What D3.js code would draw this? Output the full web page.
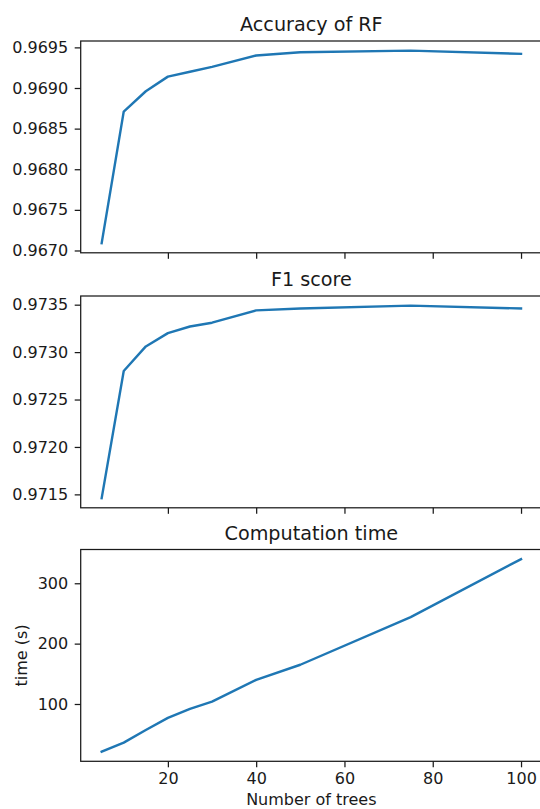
<!DOCTYPE html>
<html>
<head>
<meta charset="utf-8">
<script src="https://cdn.jsdelivr.net/npm/d3@7"></script>
<style>
  html, body { margin: 0; padding: 0; background: #fff; }
  svg { display: block; }
</style>
</head>
<body>
<div id="chart"></div>
<script>
// Random forest scores and timing versus ensemble size
const trees    = [5, 10, 15, 20, 25, 30, 40, 50, 75, 100];
const accuracy = [0.96709, 0.96871, 0.96896, 0.96914, 0.96920, 0.96926, 0.96940, 0.96944, 0.96946, 0.96942];
const f1Score  = [0.97146, 0.97280, 0.97306, 0.97320, 0.97327, 0.97331, 0.97344, 0.97346, 0.97349, 0.97346];
const timeSec  = [21, 36, 57, 77, 92, 104, 140, 165, 244, 340];

const xTicks    = [20, 40, 60, 80, 100];
const accTicks  = [0.9670, 0.9675, 0.9680, 0.9685, 0.9690, 0.9695];
const f1Ticks   = [0.9715, 0.9720, 0.9725, 0.9730, 0.9735];
const timeTicks = [100, 200, 300];

const titles = ["Accuracy of RF", "F1 score", "Computation time"];
const xLabel = "Number of trees";
const yLabelTime = "time (s)";

// Figure geometry
const W = 540, H = 809;
const left = 80.7, right = 542;
const tops = [41, 296, 549.5];
const ph = 211.8;
const FONT = "DejaVu Sans, sans-serif";
const INK = "#1a1a1a";
const LINE = "#1f77b4";

// 5% data margins on each side, like matplotlib autoscaling
function padded(vals) {
  const [lo, hi] = d3.extent(vals);
  const r = hi - lo;
  return [lo - 0.05 * r, hi + 0.05 * r];
}

const svg = d3.select("#chart").append("svg")
  .attr("width", W).attr("height", H)
  .attr("viewBox", `0 0 ${W} ${H}`);

svg.append("rect").attr("width", W).attr("height", H).attr("fill", "#fff");

const x = d3.scaleLinear().domain(padded(trees)).range([left, right]);

const panels = [
  { values: accuracy, ticks: accTicks, fmt: d3.format(".4f"), title: titles[0], showX: false },
  { values: f1Score,  ticks: f1Ticks,  fmt: d3.format(".4f"), title: titles[1], showX: false },
  { values: timeSec,  ticks: timeTicks, fmt: d3.format("d"),  title: titles[2], showX: true }
];

panels.forEach((p, i) => {
  const top = tops[i], bottom = top + ph;
  const y = d3.scaleLinear().domain(padded(p.values)).range([bottom, top]);
  const g = svg.append("g");

  // series line
  const line = d3.line().x((d, k) => x(trees[k])).y(d => y(d));
  g.append("path")
    .datum(p.values)
    .attr("d", line)
    .attr("fill", "none")
    .attr("stroke", LINE)
    .attr("stroke-width", 2.4)
    .attr("stroke-linejoin", "round")
    .attr("stroke-linecap", "square");

  // y axis
  const yAxis = g.append("g")
    .attr("transform", `translate(${left},0)`)
    .call(d3.axisLeft(y).tickValues(p.ticks).tickFormat(p.fmt).tickSize(6).tickPadding(6.5));
  yAxis.select(".domain").remove();

  // x axis (labels only on the bottom panel)
  const xAxis = g.append("g")
    .attr("transform", `translate(0,${bottom})`)
    .call(d3.axisBottom(x).tickValues(xTicks).tickFormat(p.showX ? d3.format("d") : () => "")
      .tickSize(6).tickPadding(5));
  xAxis.select(".domain").remove();

  [yAxis, xAxis].forEach(a => {
    a.attr("font-family", FONT).attr("font-size", 16);
    a.selectAll("line").attr("stroke", INK).attr("stroke-width", 1.25);
    a.selectAll("text").attr("fill", INK);
  });

  // frame
  g.append("rect")
    .attr("x", left).attr("y", top)
    .attr("width", right - left).attr("height", ph)
    .attr("fill", "none")
    .attr("stroke", INK)
    .attr("stroke-width", 1.25);

  // title
  g.append("text")
    .attr("x", (left + right) / 2)
    .attr("y", top - 10)
    .attr("text-anchor", "middle")
    .attr("font-family", FONT)
    .attr("font-size", 19.2)
    .attr("fill", INK)
    .text(p.title);

  if (i === 2) {
    g.append("text")
      .attr("transform", `translate(27.2,${(top + bottom) / 2}) rotate(-90)`)
      .attr("text-anchor", "middle")
      .attr("font-family", FONT)
      .attr("font-size", 16)
      .attr("fill", INK)
      .text(yLabelTime);
  }
});

svg.append("text")
  .attr("x", (left + right) / 2)
  .attr("y", 805)
  .attr("text-anchor", "middle")
  .attr("font-family", FONT)
  .attr("font-size", 16)
  .attr("fill", INK)
  .text(xLabel);
</script>
</body>
</html>
